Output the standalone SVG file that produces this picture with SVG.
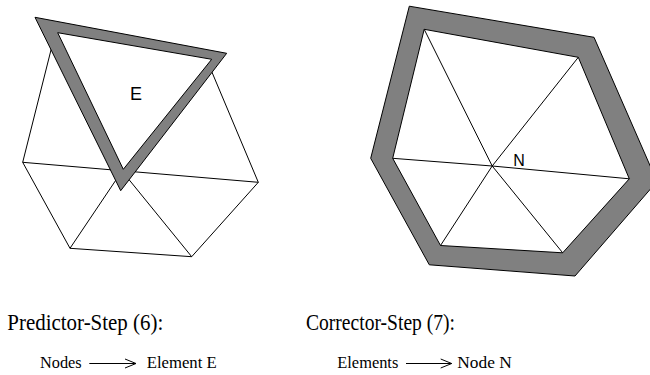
<svg xmlns="http://www.w3.org/2000/svg" width="650" height="375" viewBox="0 0 650 375">
<style>
.mesh{fill:none;stroke:#000;stroke-width:1;stroke-linejoin:miter}
.band{fill:#808080;fill-rule:evenodd;stroke:#000;stroke-width:1}
.hole{fill:#fff;stroke:none}
.lbl{font-family:"Liberation Sans",Arial,sans-serif;fill:#000}
.cap{font-family:"Liberation Serif","Times New Roman",serif;fill:#000}
.arr{fill:none;stroke:#000;stroke-width:1}
</style>
<rect width="650" height="375" fill="#fff"/>
<g id="left-mesh">
<path class="mesh" d="M22.7,162.3 L53,42 M206,58 L258.3,182.3 L191.7,256.7 L70,248.3 L22.7,162.3"/>
<path class="mesh" d="M22.7,162.3 L258.3,182.3 M122,171 L70,248.3 M122,171 L191.7,256.7"/>
</g>
<g id="element-E">
<path class="hole" d="M57.7,32.7 L123.3,169.3 L211.7,59.3 Z"/>
<path class="band" d="M35,17.3 L226.7,53.3 L120.7,190.7 Z M57.7,32.7 L123.3,169.3 L211.7,59.3 Z"/>
<text class="lbl" x="130" y="100" font-size="18">E</text>
</g>
<g id="node-N">
<path class="band" d="M409.3,6.2 L594,37.3 L657,181.5 L575,276 L429.3,264.8 L370.7,158.3 Z M424.2,29.3 L578.3,57.3 L629.3,178.8 L562.7,252.8 L440.5,245.5 L392.7,158.3 Z"/>
<path class="mesh" d="M492.2,166 L424.2,29.3 M492.2,166 L578.3,57.3 M492.2,166 L629.3,178.8 M492.2,166 L562.7,252.8 M492.2,166 L440.5,245.5 M492.2,166 L392.7,158.3"/>
<text class="lbl" x="513.3" y="166" font-size="16">N</text>
</g>
<g id="captions">
<text class="cap" x="7.3" y="329.5" font-size="23" textLength="156" lengthAdjust="spacingAndGlyphs">Predictor-Step (6):</text>
<text class="cap" x="306" y="329.5" font-size="23" textLength="149" lengthAdjust="spacingAndGlyphs">Corrector-Step (7):</text>
<text class="cap" x="40" y="368.3" font-size="16" textLength="41.7" lengthAdjust="spacingAndGlyphs">Nodes</text>
<text class="cap" x="146.7" y="368.3" font-size="16" textLength="70" lengthAdjust="spacingAndGlyphs">Element E</text>
<text class="cap" x="337.3" y="368.3" font-size="16" textLength="61" lengthAdjust="spacingAndGlyphs">Elements</text>
<text class="cap" x="457.3" y="368.3" font-size="16" textLength="54.4" lengthAdjust="spacingAndGlyphs">Node N</text>
</g>
<g id="connectors">
<path class="arr" d="M89.3,363.5 H136 M125,359 L136,363.5 L125,368"/>
<path class="arr" d="M406,363.5 H451.7 M440.7,359 L451.7,363.5 L440.7,368"/>
</g>
</svg>
